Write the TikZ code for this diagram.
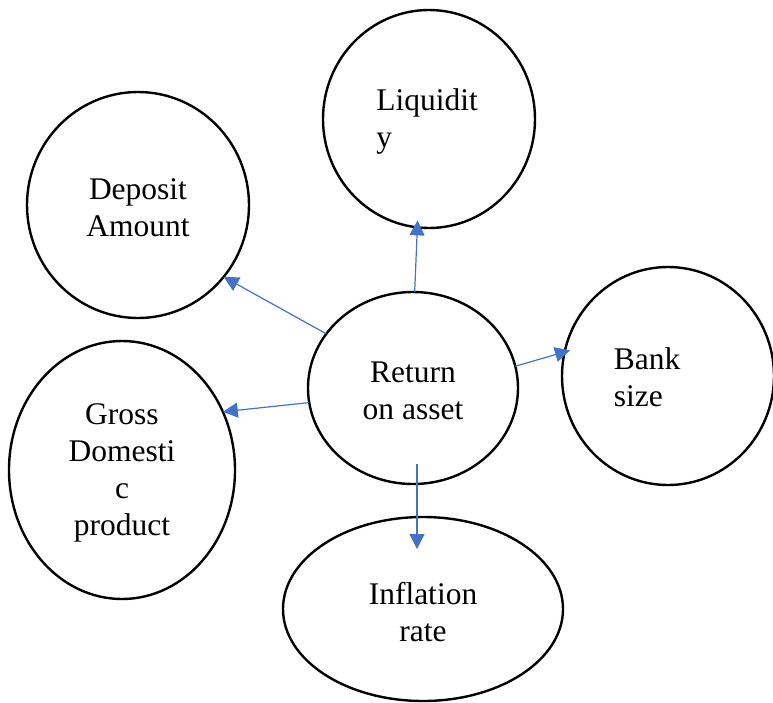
\documentclass[tikz,border=0pt]{standalone}
\usepackage{fontspec}
\setmainfont{Liberation Serif}
\usetikzlibrary{arrows.meta,shapes.geometric,calc}
\definecolor{arrblue}{RGB}{68,114,196}
\tikzset{
  ell/.style={draw=black, line width=2.4pt, ellipse, inner sep=0pt, outer sep=0pt},
  lbl/.style={font=\fontsize{31.5}{37}\selectfont, inner sep=0pt},
  arr/.style={draw=arrblue, line width=1.2pt, -{Triangle[length=15pt,width=15pt]}}
}
\begin{document}
\begin{tikzpicture}[x=1pt,y=-1pt]
\useasboundingbox (0,0) rectangle (773,702);
% ellipses
\node[ell, minimum width=212, minimum height=218] (liq) at (429,119) {};
\node[ell, minimum width=222, minimum height=226] (dep) at (138,205) {};
\node[ell, minimum width=210, minimum height=192] (ret) at (413,388) {};
\node[ell, minimum width=212, minimum height=218] (bank) at (668,376) {};
\node[ell, minimum width=226, minimum height=258] (gdp) at (122,470) {};
\node[ell, minimum width=280, minimum height=184] (inf) at (423,609) {};
% texts
\node[lbl, align=left] (liqtxt) at (427,121) {Liquidit\\y};
\node[lbl, align=center] (deptxt) at (138,208) {Deposit\\Amount};
\node[lbl, align=center] (rettxt) at (413,391) {Return\\on asset};
\node[lbl, align=left] (banktxt) at (647,377) {Bank\\size};
\node[lbl, align=center] (gdptxt) at (122,473) {Gross\\Domesti\\c\\product};
\node[lbl, align=center] (inftxt) at (423,612) {Inflation\\rate};
% connectors
\draw[arr] (ret.89) -- ([shift={(0,-7)}]liq.264);
\draw[arr] (ret.148.5) -- (dep.-40);
\draw[arr] (ret.188) -- (gdp.30);
\draw[arr] (ret.12) -- ([shift={(5,0)}]bank.166);
\draw[arr] ([shift={(4,-20)}]ret.south) -- ([shift={(-6,32)}]inf.north);
\end{tikzpicture}
\end{document}
